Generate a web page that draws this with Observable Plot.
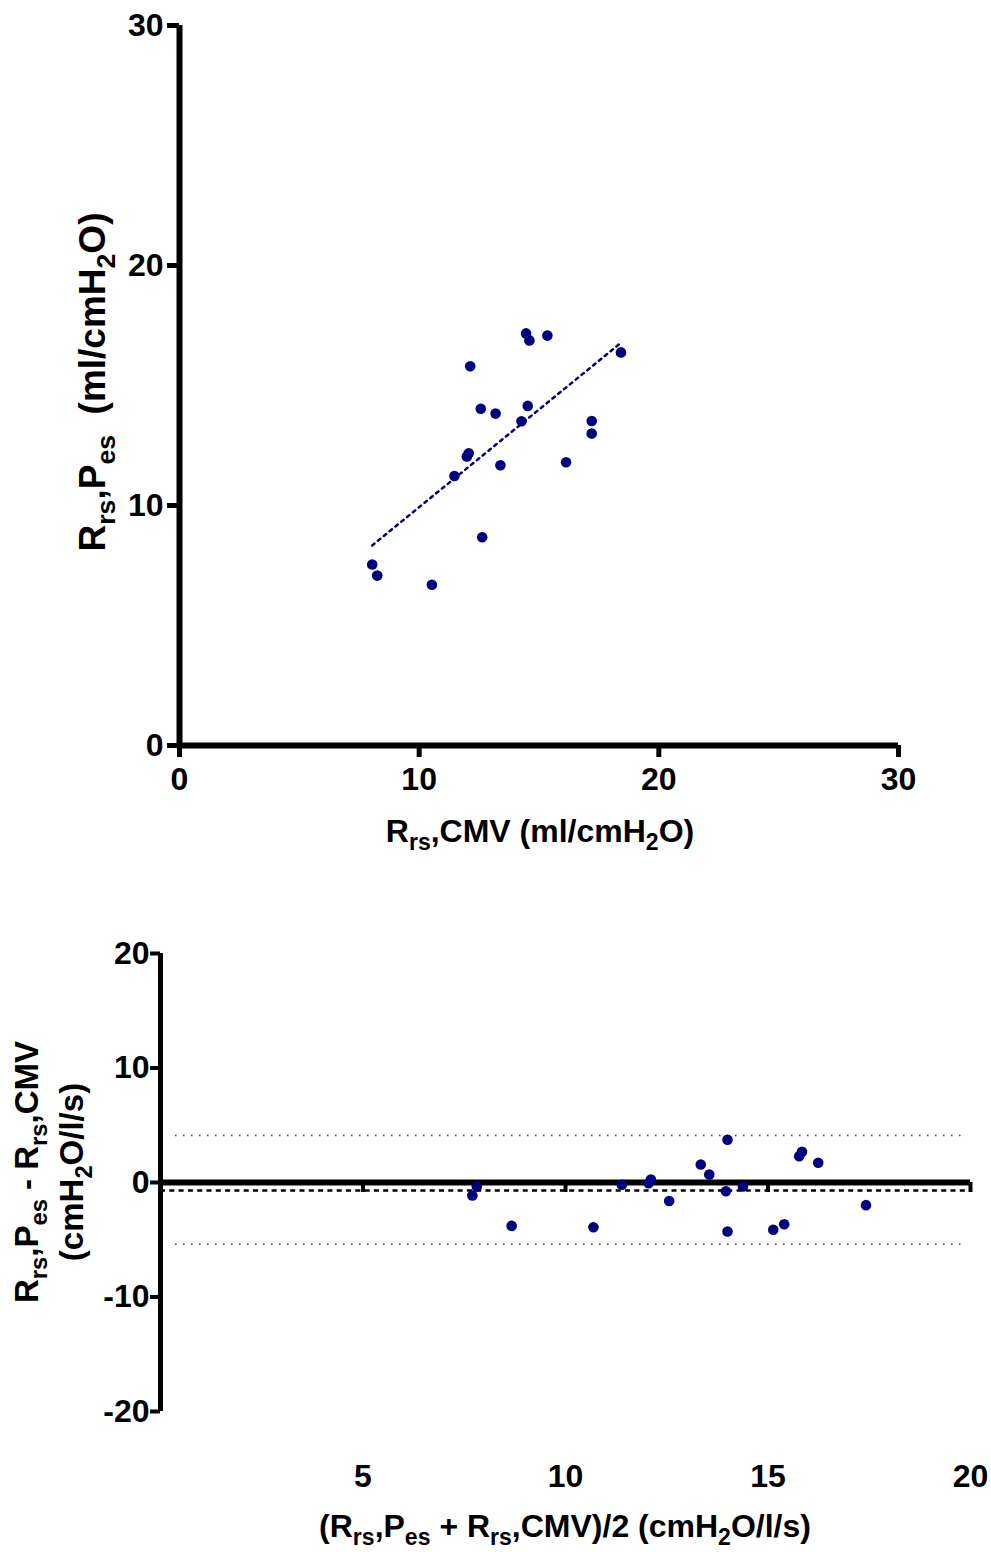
<!DOCTYPE html>
<html>
<head>
<meta charset="utf-8">
<script src="https://cdn.jsdelivr.net/npm/d3@7"></script>
<script src="https://cdn.jsdelivr.net/npm/@observablehq/plot@0.6"></script>
<style>
  html, body { margin: 0; padding: 0; background: white; }
  #wrap { width: 991px; }
  svg { display: block; }
</style>
</head>
<body>
<div id="wrap"></div>
<script>
// ---------- data ----------
// Top panel: Rrs,CMV (x) vs Rrs,Pes (y)
const topX = [14.46, 14.60, 15.35, 18.42, 12.13, 12.57, 13.19, 14.53, 14.27, 17.20,
              17.20, 12.07, 11.99, 13.39, 16.13, 11.47, 12.63, 8.04, 8.25, 10.53];
const topY = [17.17, 16.88, 17.08, 16.38, 15.80, 14.03, 13.83, 14.15, 13.51, 13.52,
              13.00, 12.18, 12.04, 11.68, 11.80, 11.23, 8.68, 7.54, 7.08, 6.70];
const topTicks = [0, 10, 20, 30];

// Bottom panel: Bland-Altman (mean vs difference)
const baMean = [7.81, 7.70, 8.67, 10.69, 11.39, 12.11, 12.05, 12.56, 13.34, 13.55,
                14.00, 13.96, 14.00, 14.38, 15.13, 15.40, 15.84, 15.77, 16.24, 17.42];
const baDiff = [-0.35, -1.14, -3.79, -3.91, -0.20, 0.26, -0.06, -1.61, 1.57, 0.70,
                3.74, -0.76, -4.28, -0.35, -4.13, -3.64, 2.68, 2.30, 1.72, -1.98];
const biasLine = [-0.7];
const limitLines = [4.1, -5.4];
const baXTicks = [5, 10, 15, 20];
const baYTicks = [-20, -10, 0, 10, 20];

// Axis titles as [text, isSubscript] parts
const topXLabel = [["R", false], ["rs", true], [",CMV (ml/cmH", false], ["2", true], ["O)", false]];
const topYLabel = [["R", false], ["rs", true], [",P", false], ["es", true], ["  (ml/cmH", false], ["2", true], ["O)", false]];
const botXLabel = [["(R", false], ["rs", true], [",P", false], ["es", true], [" + R", false], ["rs", true], [",CMV)/2 (cmH", false], ["2", true], ["O/l/s)", false]];
const botYLabel1 = [["R", false], ["rs", true], [",P", false], ["es", true], [" - R", false], ["rs", true], [",CMV", false]];
const botYLabel2 = [["(cmH", false], ["2", true], ["O/l/s)", false]];

const navy = "#00007f";
const font = "'Liberation Sans', Arial, sans-serif";

function rich(sel, parts, size) {
  let shift = 0;
  const sub = size * 0.26;
  parts.forEach(([t, isSub]) => {
    const target = isSub ? sub : 0;
    const ts = sel.append("tspan").text(t).attr("dy", target - shift);
    if (isSub) ts.attr("font-size", size * 0.72);
    shift = target;
  });
}

function addLabel(svg, parts, x, y, size, rotate) {
  const t = d3.select(svg).append("text")
    .attr("font-family", font)
    .attr("font-weight", "bold")
    .attr("font-size", size)
    .attr("fill", "black")
    .attr("text-anchor", "middle")
    .attr("xml:space", "preserve")
    .attr("transform", rotate ? `translate(${x},${y}) rotate(-90)` : `translate(${x},${y})`);
  rich(t, parts, size);
}

const fmt = d => String(d);
const topPts = topX.map((x, i) => ({x, y: topY[i]}));
const baPts = baMean.map((x, i) => ({x, y: baDiff[i]}));

// ---------- top chart ----------
const chart1 = Plot.plot({
  width: 991,
  height: 870,
  marginLeft: 179,
  marginRight: 93,
  marginTop: 25,
  marginBottom: 125,
  x: {domain: [0, 30]},
  y: {domain: [0, 30]},
  style: {fontFamily: font, fontWeight: "bold", fontSize: "32px", color: "black", background: "white", overflow: "visible"},
  marks: [
    Plot.axisX({ticks: topTicks, tickFormat: fmt, tickSize: 12, tickPadding: 10, strokeWidth: 5, label: null, fontSize: 32}),
    Plot.axisY({ticks: topTicks, tickFormat: fmt, tickSize: 12, tickPadding: 4, strokeWidth: 5, label: null, fontSize: 32}),
    Plot.ruleX([0], {stroke: "black", strokeWidth: 6}),
    Plot.ruleY([0], {stroke: "black", strokeWidth: 6}),
    Plot.linearRegressionY(topPts, {x: "x", y: "y", ci: 0, stroke: navy, strokeWidth: 2.5, strokeDasharray: "3,4.5"}),
    Plot.dot(topPts, {x: "x", y: "y", r: 5.3, fill: navy, stroke: null})
  ]
});
addLabel(chart1, topXLabel, 540, 842, 32, false);
addLabel(chart1, topYLabel, 105, 382, 37, true);

// ---------- bottom chart ----------
const chart2 = Plot.plot({
  width: 991,
  height: 682,
  marginLeft: 160,
  marginRight: 21,
  marginTop: 83,
  marginBottom: 141,
  x: {domain: [0, 20]},
  y: {domain: [-20, 20]},
  style: {fontFamily: font, fontWeight: "bold", fontSize: "32px", color: "black", background: "white", overflow: "visible"},
  marks: [
    Plot.axisX({ticks: baXTicks, tickFormat: fmt, tickSize: 0, tickPadding: 53, label: null, fontSize: 32}),
    Plot.axisY({ticks: baYTicks, tickFormat: fmt, tickSize: 10, tickPadding: 1, strokeWidth: 4, label: null, fontSize: 32}),
    Plot.ruleY(limitLines, {stroke: "#444", strokeWidth: 1.5, strokeDasharray: "1.5,6.5", insetLeft: 15, insetRight: 5}),
    Plot.ruleY(biasLine, {stroke: "black", strokeWidth: 2.5, strokeDasharray: "5,4.3"}),
    Plot.ruleX([0], {stroke: "black", strokeWidth: 5}),
    Plot.ruleY([0], {stroke: "black", strokeWidth: 6}),
    Plot.ruleX(baXTicks, {x: d => d, y1: () => 0, y2: () => 0, insetBottom: -10, stroke: "black", strokeWidth: 4}),
    Plot.dot(baPts, {x: "x", y: "y", r: 5.3, fill: navy, stroke: null})
  ]
});
addLabel(chart2, botXLabel, 565, 667, 32, false);
addLabel(chart2, botYLabel1, 38, 302, 33, true);
addLabel(chart2, botYLabel2, 83, 302, 33, true);

document.getElementById("wrap").append(chart1, chart2);
</script>
</body>
</html>
